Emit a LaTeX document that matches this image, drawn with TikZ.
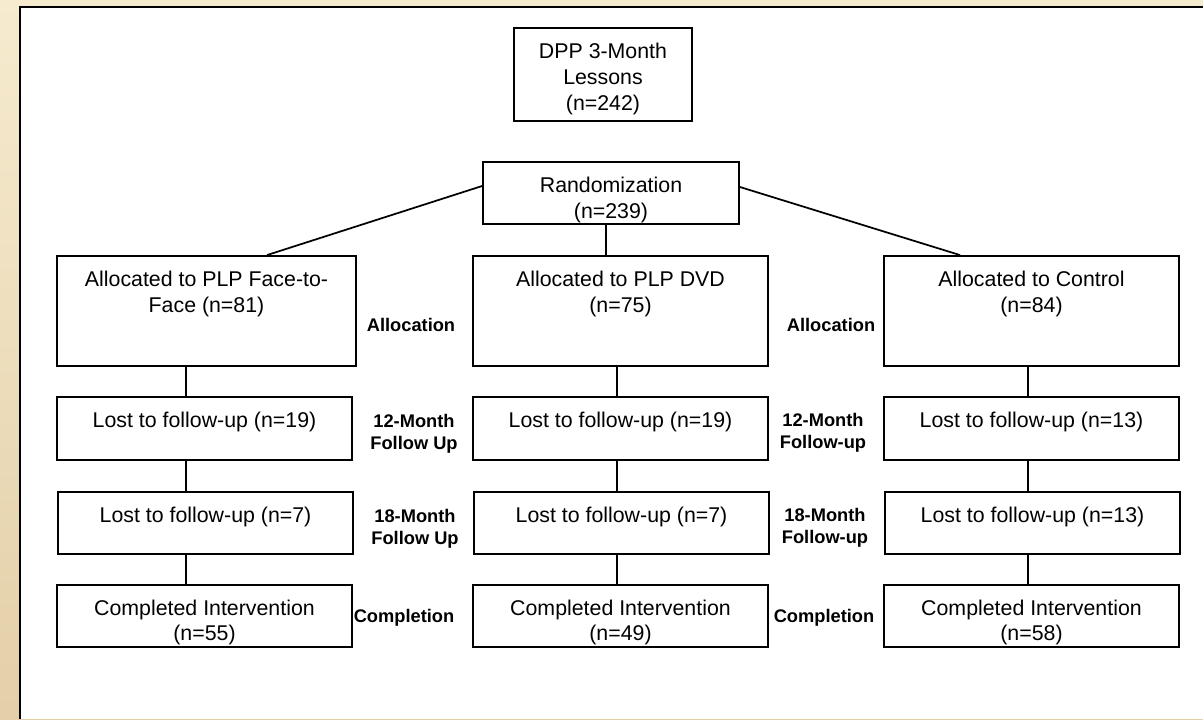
\documentclass[tikz,border=0pt]{standalone}
\usepackage{fontspec}
\setmainfont{Liberation Sans}
\definecolor{parchtop}{HTML}{F6EBCF}
\definecolor{parchbot}{HTML}{E3CFA8}
\begin{document}
\begin{tikzpicture}[x=0.75pt,y=-0.75pt,
  box/.style={draw, line width=1.4pt, inner sep=0pt, fill=white},
  boxtext/.style={anchor=north, inner sep=0pt, align=center, font=\fontsize{16}{19.6}\selectfont},
  tighttext/.style={boxtext, font=\fontsize{16}{18.75}\selectfont},
  sidelabel/.style={inner sep=0pt, align=center, font=\fontsize{13.7}{16.5}\selectfont\bfseries},
  conn/.style={line width=1.3pt}]
\useasboundingbox (0,0) rectangle (1203,719);
\shade[top color=parchtop, bottom color=parchbot] (0,0) rectangle (1203,719);
\fill[white] (20,7) rectangle (1203,719);
\draw[line width=2pt] (20,719) -- (20,7) -- (1203,7);

% boxes
\node[box, minimum width=133.5pt, minimum height=69.75pt] (dpp) at (603,74.5) {};
\node[box, minimum width=192pt, minimum height=46.5pt] (rand) at (611,193) {};
\node[box, minimum width=224.25pt, minimum height=82.5pt] (allocL) at (206.5,311) {};
\node[box, minimum width=221.25pt, minimum height=82.5pt] (allocM) at (620.5,311) {};
\node[box, minimum width=221.25pt, minimum height=82.5pt] (allocR) at (1031.5,311) {};
\node[box, minimum width=221.25pt, minimum height=47.25pt] (lostLa) at (204.5,428.5) {};
\node[box, minimum width=221.25pt, minimum height=47.25pt] (lostMa) at (620.5,428.5) {};
\node[box, minimum width=221.25pt, minimum height=47.25pt] (lostRa) at (1031.5,428.5) {};
\node[box, minimum width=221.25pt, minimum height=46.5pt] (lostLb) at (205.5,523) {};
\node[box, minimum width=221.25pt, minimum height=46.5pt] (lostMb) at (621.5,523) {};
\node[box, minimum width=221.25pt, minimum height=46.5pt] (lostRb) at (1032.5,523) {};
\node[box, minimum width=221.25pt, minimum height=46.5pt] (compL) at (204.5,616) {};
\node[box, minimum width=221.25pt, minimum height=46.5pt] (compM) at (620.5,616) {};
\node[box, minimum width=221.25pt, minimum height=46.5pt] (compR) at (1031.5,616) {};

% box texts
\node[boxtext] (dpptxt) at ([yshift=-11.8pt]dpp.north) {DPP 3-Month\\Lessons\\(n=242)};
\node[boxtext] (randtxt) at ([yshift=-11.8pt]rand.north) {Randomization\\(n=239)};
\node[boxtext] (allocLtxt) at ([yshift=-11.8pt]allocL.north) {Allocated to PLP Face-to-\\Face (n=81)};
\node[boxtext] (allocMtxt) at ([yshift=-11.8pt]allocM.north) {Allocated to PLP DVD\\(n=75)};
\node[boxtext] (allocRtxt) at ([yshift=-11.8pt]allocR.north) {Allocated to Control\\(n=84)};
\node[boxtext] (lostLatxt) at ([yshift=-11.8pt]lostLa.north) {Lost to follow-up (n=19)};
\node[boxtext] (lostMatxt) at ([yshift=-11.8pt]lostMa.north) {Lost to follow-up (n=19)};
\node[boxtext] (lostRatxt) at ([yshift=-11.8pt]lostRa.north) {Lost to follow-up (n=13)};
\node[boxtext] (lostLbtxt) at ([yshift=-11.8pt]lostLb.north) {Lost to follow-up (n=7)};
\node[boxtext] (lostMbtxt) at ([yshift=-11.8pt]lostMb.north) {Lost to follow-up (n=7)};
\node[boxtext] (lostRbtxt) at ([yshift=-11.8pt]lostRb.north) {Lost to follow-up (n=13)};
\node[tighttext] (compLtxt) at ([yshift=-11.8pt]compL.north) {Completed Intervention\\(n=55)};
\node[tighttext] (compMtxt) at ([yshift=-11.8pt]compM.north) {Completed Intervention\\(n=49)};
\node[tighttext] (compRtxt) at ([yshift=-11.8pt]compR.north) {Completed Intervention\\(n=58)};

% side labels
\node[sidelabel] (labAllocL) at (411,325) {Allocation};
\node[sidelabel] (lab12L) at (414,434) {12-Month\\Follow Up};
\node[sidelabel] (lab18L) at (415,529) {18-Month\\Follow Up};
\node[sidelabel] (labCompL) at (404,618) {Completion};
\node[sidelabel] (labAllocR) at (831,325) {Allocation};
\node[sidelabel] (lab12R) at (823,433) {12-Month\\Follow-up};
\node[sidelabel] (lab18R) at (825,528) {18-Month\\Follow-up};
\node[sidelabel] (labCompR) at (824,618) {Completion};

% column x positions
\coordinate (xL) at (186,0);
\coordinate (xM) at (617,0);
\coordinate (xR) at (1028,0);
\coordinate (xRand) at (606,0);

% connectors
\draw[conn] ([yshift=5.25pt]rand.west) -- ([xshift=45.4pt]allocL.north);
\draw[conn] ([yshift=4.5pt]rand.east) -- ([xshift=-53.6pt]allocR.north);
\draw[conn] (rand.south -| xRand) -- (allocM.north -| xRand);

\draw[conn] (allocL.south -| xL) -- (lostLa.north -| xL);
\draw[conn] (lostLa.south -| xL) -- (lostLb.north -| xL);
\draw[conn] (lostLb.south -| xL) -- (compL.north -| xL);

\draw[conn] (allocM.south -| xM) -- (lostMa.north -| xM);
\draw[conn] (lostMa.south -| xM) -- (lostMb.north -| xM);
\draw[conn] (lostMb.south -| xM) -- (compM.north -| xM);

\draw[conn] (allocR.south -| xR) -- (lostRa.north -| xR);
\draw[conn] (lostRa.south -| xR) -- (lostRb.north -| xR);
\draw[conn] (lostRb.south -| xR) -- (compR.north -| xR);
\end{tikzpicture}
\end{document}
